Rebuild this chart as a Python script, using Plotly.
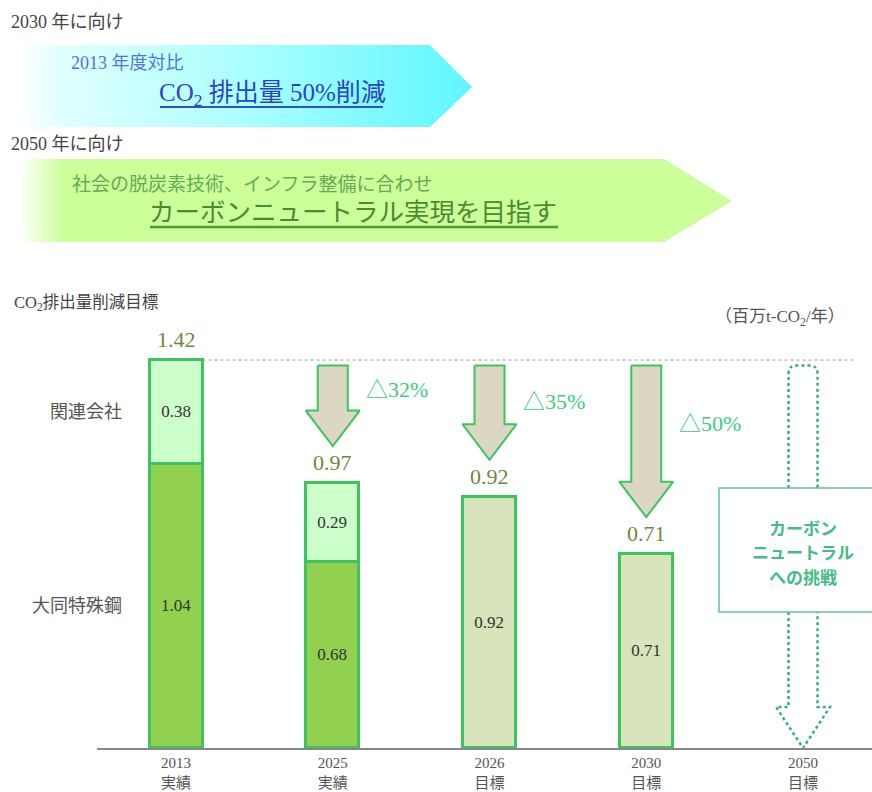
import plotly.graph_objects as go

# ---------------- data ----------------
years = ["2013", "2025", "2026", "2030", "2050"]
kinds = ["実績", "実績", "目標", "目標", "目標"]
daido = [1.04, 0.68, None, None]          # 大同特殊鋼
affiliates = [0.38, 0.29, None, None]     # 関連会社
targets = [None, None, 0.92, 0.71]        # 目標（合計）
reductions = ["△32%", "△35%", "△50%"]   # vs 2013
series_names = ["大同特殊鋼", "関連会社"]
box_lines = ["カーボン", "ニュートラル", "への挑戦"]

totals = [round((a or 0) + (b or 0) + (c or 0), 2) for a, b, c in zip(daido, affiliates, targets)]
bottom_vals = [d if d is not None else t for d, t in zip(daido, targets)]

# ---------------- style / geometry ----------------
W, H = 872, 792
SERIF = "Liberation Serif, Noto Sans CJK JP, serif"
GREEN_LINE = "#3cc45e"
C_DAIDO = "#92d050"
C_AFF = "#ccffcc"
C_TARGET = "#d8e4bc"
C_ARROW = "#dbd7c2"
C_PCT = "#3dcc7a"
C_VAL = "#6b8a3a"
C_TEAL = "#3aaa88"

X_LEFT_PX, X_RIGHT_PX = 97, 872
XR = [-0.504, 4.44]
BASE_PX, TOP_PX = 748, 300
PX_PER_UNIT = 273.2
YR = [0, (BASE_PX - TOP_PX) / PX_PER_UNIT]
UX = (X_RIGHT_PX - X_LEFT_PX) / (XR[1] - XR[0])  # px per x unit


def dy(py):
    return (BASE_PX - py) / PX_PER_UNIT


def dxw(pxw):
    return pxw / UX


bar_w = dxw(53)
xs = list(range(len(years)))

fig = go.Figure()

# ---------------- banners (pixel axes x2/y2) ----------------
fig.add_trace(go.Scatter(
    x=[18, 430, 472, 430, 18, 18], y=[45, 45, 87, 127, 127, 45],
    xaxis="x2", yaxis="y2", mode="lines", line=dict(width=0),
    fill="toself", fillcolor="#66ffff",
    fillgradient=dict(type="horizontal",
                      colorscale=[[0, "#ffffff"], [0.1, "#e0ffff"], [0.5, "#aaffff"], [1, "#5ff6ff"]]),
    hoverinfo="skip", showlegend=False))
fig.add_trace(go.Scatter(
    x=[18, 664, 732, 664, 18, 18], y=[159, 159, 201, 242, 242, 159],
    xaxis="x2", yaxis="y2", mode="lines", line=dict(width=0),
    fill="toself", fillcolor="#ccff99",
    fillgradient=dict(type="horizontal",
                      colorscale=[[0, "#ffffff"], [0.065, "#ccff99"], [1, "#ccff99"]]),
    hoverinfo="skip", showlegend=False))

# ---------------- bars ----------------
fig.add_trace(go.Bar(
    x=xs[:4], y=bottom_vals, width=bar_w, name=series_names[0],
    marker=dict(color=[C_DAIDO, C_DAIDO, C_TARGET, C_TARGET],
                line=dict(color=GREEN_LINE, width=3)),
    texttemplate="%{y:.2f}", textposition="inside", insidetextanchor="middle",
    textangle=0, constraintext="none",
    textfont=dict(family=SERIF, size=17, color="#333333"),
    hoverinfo="skip", showlegend=False))
fig.add_trace(go.Bar(
    x=xs[:4], y=affiliates, width=bar_w, name=series_names[1],
    marker=dict(color=C_AFF, line=dict(color=GREEN_LINE, width=3)),
    texttemplate="%{y:.2f}", textposition="inside", insidetextanchor="middle",
    textangle=0, constraintext="none",
    textfont=dict(family=SERIF, size=17, color="#333333"),
    hoverinfo="skip", showlegend=False))

# ---------------- reduction arrows ----------------
arrow_top = totals[0] - 0.02
shaft_hw, head_hw = dxw(15), dxw(27)
for i in range(1, 4):
    tip = totals[i] + 0.135
    neck = tip + 0.13
    ax = [i - shaft_hw, i + shaft_hw, i + shaft_hw, i + head_hw, i, i - head_hw, i - shaft_hw, i - shaft_hw]
    ay = [arrow_top, arrow_top, neck, neck, tip, neck, neck, arrow_top]
    fig.add_trace(go.Scatter(x=ax, y=ay, mode="lines", fill="toself", fillcolor=C_ARROW,
                             line=dict(color=GREEN_LINE, width=2), hoverinfo="skip", showlegend=False))

pct_y_px = [389, 401, 423]
annotations = []
for k, i in enumerate(range(1, 4)):
    annotations.append(dict(x=i + dxw(31), y=dy(pct_y_px[k]), xref="x", yref="y", text=reductions[k],
                            xanchor="left", yanchor="middle", showarrow=False,
                            font=dict(family=SERIF, size=22, color=C_PCT)))

# totals above bars
for i in range(4):
    annotations.append(dict(x=i, y=totals[i], xref="x", yref="y", text=f"{totals[i]:.2f}",
                            xanchor="center", yanchor="bottom", yshift=6, showarrow=False,
                            font=dict(family=SERIF, size=22, color=C_VAL)))

# series labels left of 2013 bar
annotations.append(dict(x=-bar_w / 2, y=daido[0] + affiliates[0] / 2, xref="x", yref="y",
                        text=series_names[1], xanchor="right", xshift=-26, showarrow=False,
                        font=dict(family=SERIF, size=18, color="#555555")))
annotations.append(dict(x=-bar_w / 2, y=daido[0] / 2, xref="x", yref="y",
                        text=series_names[0], xanchor="right", xshift=-26, showarrow=False,
                        font=dict(family=SERIF, size=18, color="#555555")))

shapes = []
# dotted reference line at 2013 total
shapes.append(dict(type="line", xref="x", yref="y", x0=bar_w / 2, x1=4.32, y0=totals[0], y1=totals[0],
                   line=dict(color="#999999", width=1, dash="dot")))

# 2050 dotted arrow + box
cx = 4
hw, hhw = dxw(14.5), dxw(27)
box_top, box_bot = dy(488), dy(612)
neck50 = dy(707)
r_y, r_x = 8 / PX_PER_UNIT, dxw(8)
path_up = (f"M {cx-hw},{box_top} L {cx-hw},{arrow_top-r_y} Q {cx-hw},{arrow_top} {cx-hw+r_x},{arrow_top} "
           f"L {cx+hw-r_x},{arrow_top} Q {cx+hw},{arrow_top} {cx+hw},{arrow_top-r_y} L {cx+hw},{box_top}")
path_dn = (f"M {cx-hw},{box_bot} L {cx-hw},{neck50} L {cx-hhw},{neck50} L {cx},0 "
           f"L {cx+hhw},{neck50} L {cx+hw},{neck50} L {cx+hw},{box_bot}")
for p in (path_up, path_dn):
    shapes.append(dict(type="path", xref="x", yref="y", path=p,
                       line=dict(color=C_TEAL, width=2.5, dash="dot")))
box_hw = dxw(84)
shapes.append(dict(type="rect", xref="x", yref="y", x0=cx - box_hw, x1=cx + box_hw, y0=box_bot, y1=box_top,
                   line=dict(color="#66c0a0", width=1.5), fillcolor="white"))
box_line_px = [527, 551.5, 576]
for txt, py in zip(box_lines, box_line_px):
    annotations.append(dict(x=cx, y=dy(py), xref="x", yref="y", text=f"<b>{txt}</b>", showarrow=False,
                            align="center", yanchor="middle",
                            font=dict(family="Noto Sans CJK JP", size=17, color="#44bb88")))

# underlines for banner headlines
shapes.append(dict(type="line", xref="x2", yref="y2", x0=160, x1=383, y0=107, y1=107,
                   line=dict(color="#3050c8", width=2)))
shapes.append(dict(type="line", xref="x2", yref="y2", x0=150, x1=558, y0=227, y1=227,
                   line=dict(color="#4a9a3a", width=2.5)))

# banner texts
def ptext(x, y, text, size, color, anchor="left", family=SERIF):
    return dict(x=x, y=y, xref="x2", yref="y2", text=text, xanchor=anchor, yanchor="middle",
                showarrow=False, font=dict(family=family, size=size, color=color))

annotations += [
    ptext(9, 22, "2030 年に向け", 18, "#444444"),
    ptext(69, 63, "2013 年度対比", 18, "#5273e0"),
    ptext(157, 94, "CO<sub>2</sub> 排出量 50%削減", 25, "#2a44c4"),
    ptext(9, 144, "2050 年に向け", 18, "#444444"),
    ptext(70, 184, "社会の脱炭素技術、インフラ整備に合わせ", 19, "#66aa55"),
    ptext(147, 212, "カーボンニュートラル実現を目指す", 25.5, "#4a8a30"),
    ptext(12, 303, "CO<sub>2</sub>排出量削減目標", 16.5, "#444444"),
    ptext(847, 318, "（百万t-CO<sub>2</sub>/年）", 17, "#555555", anchor="right"),
]

fig.update_layout(
    width=W, height=H, margin=dict(l=0, r=0, t=0, b=0),
    paper_bgcolor="white", plot_bgcolor="rgba(0,0,0,0)",
    barmode="stack", bargap=0, showlegend=False,
    font=dict(family=SERIF),
    xaxis=dict(domain=[X_LEFT_PX / W, 1], range=XR, tickvals=xs,
               ticktext=[f"{y}<br>{k}" for y, k in zip(years, kinds)],
               tickfont=dict(family=SERIF, size=15, color="#555555"),
               showline=True, linecolor="#888888", linewidth=2, showgrid=False, zeroline=False,
               ticks="", fixedrange=True),
    yaxis=dict(domain=[(H - BASE_PX) / H, (H - TOP_PX) / H], range=YR, visible=False, fixedrange=True),
    xaxis2=dict(domain=[0, 1], range=[0, W], anchor="y2", visible=False, fixedrange=True),
    yaxis2=dict(domain=[0, 1], range=[H, 0], anchor="x2", visible=False, fixedrange=True),
    shapes=shapes, annotations=annotations,
)

fig.write_html("out.html", post_script="document.body.style.margin='0';",
               config={"displayModeBar": False})
